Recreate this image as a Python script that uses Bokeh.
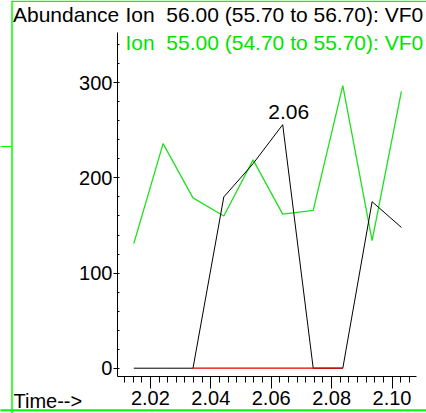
from bokeh.plotting import figure
from bokeh.models import (SingleIntervalTicker, Label, PolyAnnotation, ColumnDataSource,
                          PrintfTickFormatter)
from bokeh.embed import file_html
from bokeh.resources import INLINE
import numpy as np

# ---- data ----
time_min = [2.0145, 2.0242, 2.0341, 2.0443, 2.0540, 2.0638, 2.0739, 2.0837, 2.0934, 2.1031]
ion56 = [0, 0, 0, 180, 215, 256, 0, 0, 175, 148]
ion55 = [131, 236, 179, 160, 219, 162, 166, 297, 134, 291]
baseline_time = [time_min[2], time_min[7]]
baseline_abund = [0, 0]

title56 = "Ion \u00a056.00 (55.70 to 56.70): VF0"
title55 = "Ion \u00a055.00 (54.70 to 55.70): VF0"
y_label = "Abundance"
x_label = "Time-->"

# axis extents (data units) and full canvas ranges
X_AXIS_BOUNDS = (2.0091, 2.1081)
Y_AXIS_BOUNDS = (-8.7, 352.9)
W, H = 426, 413
TXT_FIX = 6.5   # baseline correction for label placement (px)

FONT = "Liberation Sans"
GREEN = "#00ff00"
GREEN_TXT = "#00e400"

p = figure(width=W, height=H, x_range=(1.97037, 2.11141), y_range=(-47.6, 386.5),
           output_backend="svg", toolbar_location=None,
           min_border=0, min_border_left=0, min_border_right=0,
           min_border_top=0, min_border_bottom=0)
p.title.visible = False
p.outline_line_color = None
p.grid.visible = False
p.background_fill_color = "white"
p.border_fill_color = "white"

src = ColumnDataSource(dict(t=time_min, a56=ion56, a55=ion55))
p.line("t", "a55", source=src, line_color="#1ee01e", line_width=1.3)
p.line("t", "a56", source=src, line_color="black", line_width=1)
p.line(baseline_time, baseline_abund, line_color="#e00000", line_width=1.2)

# axes (kept in their side panels, drawn at fixed locations)
xa = p.xaxis[0]
xa.fixed_location = Y_AXIS_BOUNDS[0]
xa.bounds = X_AXIS_BOUNDS
xa.ticker = SingleIntervalTicker(interval=0.02, num_minor_ticks=7)
xa.formatter = PrintfTickFormatter(format="%.2f")
xa.major_tick_out = 12
xa.major_tick_in = 0
xa.minor_tick_out = 6
xa.minor_tick_in = 0
xa.major_label_standoff = 3
ya = p.yaxis[0]
ya.fixed_location = X_AXIS_BOUNDS[0]
ya.bounds = Y_AXIS_BOUNDS
ya.ticker = SingleIntervalTicker(interval=100, num_minor_ticks=5)
ya.major_tick_out = 4
ya.major_tick_in = 1
ya.minor_tick_out = 0
ya.minor_tick_in = 2
ya.major_label_standoff = 1
for ax in (xa, ya):
    ax.axis_line_color = "black"
    ax.major_tick_line_color = "black"
    ax.minor_tick_line_color = "black"
    ax.major_label_text_font = FONT
    ax.major_label_text_font_size = "20px"
    ax.major_label_text_color = "black"

# peak label
i_peak = int(np.argmax(ion56))
p.add_layout(Label(x=time_min[i_peak], y=ion56[i_peak], text=f"{time_min[i_peak]:.2f}",
                   x_offset=6, y_offset=6 + TXT_FIX, text_align="center", text_baseline="alphabetic",
                   text_font=FONT, text_font_size="21px", text_color="black"))

# header / axis texts (screen units from bottom-left of the canvas-wide frame)
def lab(txt, x, y_top, color="black", size="21px"):
    p.add_layout(Label(x=x, y=H - y_top + TXT_FIX, x_units="screen", y_units="screen", text=txt,
                       text_align="left", text_baseline="alphabetic",
                       text_font=FONT, text_font_size=size, text_color=color))

lab(y_label, 12.5, 20)
lab(title56, 125, 20)
lab(title55, 125, 48.3, GREEN_TXT)
lab(x_label, 13, 406.7, size="20px")

# green panel frame lines
def gline(xs, ys_top, width=1.5, color=GREEN):
    p.add_layout(PolyAnnotation(xs=xs, ys=[H - y for y in ys_top], xs_units="screen", ys_units="screen",
                                fill_color=None, fill_alpha=0, line_color=color,
                                line_alpha=1.0, line_width=width))

gline([11.5, W + 5], [0.75, 0.75])        # top
gline([11.5, 11.5], [0, 413])             # left
gline([-2, W + 5], [409.8, 409.8], 2)     # bottom
gline([0, 11.5], [146, 146], 1.2)         # small side tick

open("out.html", "w").write(file_html(p, INLINE))
